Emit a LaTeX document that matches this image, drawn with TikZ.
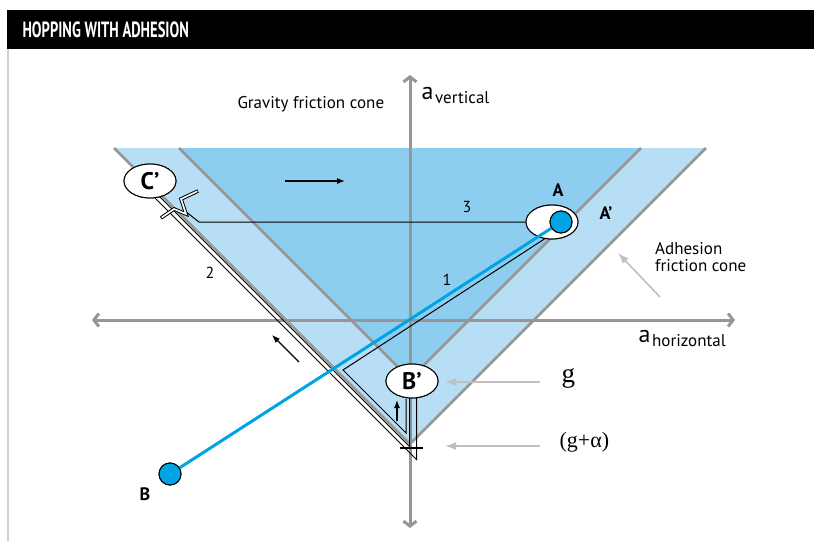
\documentclass[tikz,border=0pt]{standalone}
\usepackage{graphicx}
\usepackage{fontspec}
\setmainfont{PT Sans}
\newfontfamily\gfont{Liberation Serif}
\usetikzlibrary{arrows.meta,positioning,calc,shapes.geometric}
\definecolor{coneout}{RGB}{184,222,246}
\definecolor{conein}{RGB}{141,205,240}
\definecolor{axisgray}{RGB}{150,150,150}
\definecolor{hintgray}{RGB}{192,192,192}
\definecolor{hopblue}{RGB}{0,164,228}

\begin{document}
\begin{tikzpicture}[
    x=1pt,
    y=-1pt,
    >=Latex,
    axis/.style={line width=3pt, draw=axisgray, {Straight Barb[length=5pt,width=13pt]}-{Straight Barb[length=5pt,width=13pt]}},
    coneedge/.style={line width=2.5pt, draw=axisgray},
    hop/.style={line width=1pt, draw=black},
    hint/.style={line width=1.6pt, draw=hintgray, -{Latex[length=11pt,width=8pt]}},
    move/.style={line width=1.1pt, draw=black, -{Latex[length=8pt,width=6pt]}},
    state/.style={ellipse, draw, line width=1pt, fill=white, minimum width=52pt, minimum height=34pt, inner sep=0pt, font=\fontsize{24}{26}\selectfont\bfseries},
    ball/.style={circle, draw, line width=1pt, fill=hopblue, minimum size=22pt, inner sep=0pt},
    lab/.style={font=\fontsize{17}{19}\selectfont},
    tag/.style={font=\fontsize{18}{20}\selectfont\bfseries},
    num/.style={font=\fontsize{16}{18}\selectfont}
]
\useasboundingbox (0,0) rectangle (814,541);

% header
\fill[black] (7,10) rectangle (814,49);
\node[anchor=west, text=white, font=\fontsize{22}{24}\selectfont\bfseries] (title) at (19,30) {\scalebox{0.66}[1]{HOPPING WITH ADHESION}};
\draw[line width=2pt, black!18] (8,49) -- (8,541);

% cones
\coordinate (oL) at (114,148);
\coordinate (oR) at (706,148);
\coordinate (oA) at (410,444);
\coordinate (gL) at (179,148);
\coordinate (gR) at (641,148);
\coordinate (gA) at (410,379);
\fill[coneout] (oL) -- (oR) -- (oA) -- cycle;
\fill[conein] (gL) -- (gR) -- (gA) -- cycle;
\draw[coneedge] (oL) -- (oA) -- (oR);
\draw[coneedge] (gL) -- (gA) -- (gR);

% axes
\coordinate (vTop) at (410,75);
\coordinate (vBot) at (410,528);
\coordinate (hLeft) at (92,320);
\coordinate (hRight) at (735,320);
\draw[axis] (vBot) -- (vTop);
\draw[axis] (hLeft) -- (hRight);
\node[anchor=west] (labV) at (418,96) {{\fontsize{24}{25}\selectfont a}\,\raisebox{-4pt}{\fontsize{17}{18}\selectfont vertical}};
\node[anchor=west] (labH) at (635,339) {{\fontsize{24}{25}\selectfont a}\,\raisebox{-4pt}{\fontsize{17}{18}\selectfont horizontal}};
\node[lab, anchor=west] (labG) at (234,104) {Gravity friction cone};
\node[lab, anchor=west, align=left, inner sep=0pt] (labAd) at (655,257) {Adhesion\\[-2pt]friction cone};

% states
\node[state] (stA) at (552,222) {};
\node[state] (stB) at (412,381) {B’};
\node[state] (stC) at (150,181) {C’};

% hop 1 : A to B'
\coordinate (k1) at (343,370);
\coordinate (k2) at (406,433);
\draw[hop] (552,234) -- (k1) -- (k2) -- (k2 |- stB.south);
\draw[move] (397,421) -- (397,400);

% hop 2 : B' down to apex, then up the adhesion edge to C'
\coordinate (d1) at (409.5,446.5);
\coordinate (d2) at (416.5,459.5);
\draw[hop] (409.5,398) -- (d1) -- (150,187);
\draw[hop] (416.5,398) -- (d2) -- (150,193);
\draw[line width=1.5pt] (400,448) -- (423,448);
\draw[move] (299,362) -- (272,335);

% hop 3 : C' across to A
\coordinate (k3) at (199,222);
\coordinate (k4) at (185,211);
\draw[hop] (stA.west) -- (k3) -- (k4);
\draw[line width=3.6pt, line join=miter] (161,218) -- (174,209) -- (186,214) -- (181,199) -- (198,191);
\draw[line width=1.6pt, white, line join=miter] (161.7,217.5) -- (174,209) -- (186,214) -- (181,199) -- (197.3,191.3);
\draw[move] (285,181) -- (345,181);

% redraw state ellipses on top of the hop lines
\node[state] at (stB) {B’};
\node[state] at (stC) {C’};
\node[state] at (stA) {};

% blue trajectory
\node[ball] (ptA) at (561,222) {};
\node[ball] (ptB) at (170,474) {};
\draw[hopblue, line width=3pt] (ptB) -- (ptA);
\node[ball] at (ptA) {};
\node[ball] at (ptB) {};

% labels
\node[tag] (labA) at (558,190) {A};
\node[tag] (labA2) at (606,213) {A’};
\node[tag] (labB) at (145,494) {B};
\node[num] (n1) at (447,280) {1};
\node[num] (n2) at (210,273) {2};
\node[num] (n3) at (467,207) {3};

% g markers
\node[anchor=west, font=\gfont\fontsize{27}{28}\selectfont] (labg) at (558,378) {g};
\node[anchor=west, font=\gfont\fontsize{22}{24}\selectfont] (labga) at (556,442) {(g+α)};
\coordinate (gTip) at (445,382);
\coordinate (gaTip) at (445,446);
\draw[hint] ([xshift=-18pt]labg.west |- gTip) -- (gTip);
\draw[hint] ([xshift=-16pt]labga.west |- gaTip) -- (gaTip);
\coordinate (adTip) at (618,253);
\draw[hint] (660,297) -- (adTip);
\end{tikzpicture}
\end{document}
